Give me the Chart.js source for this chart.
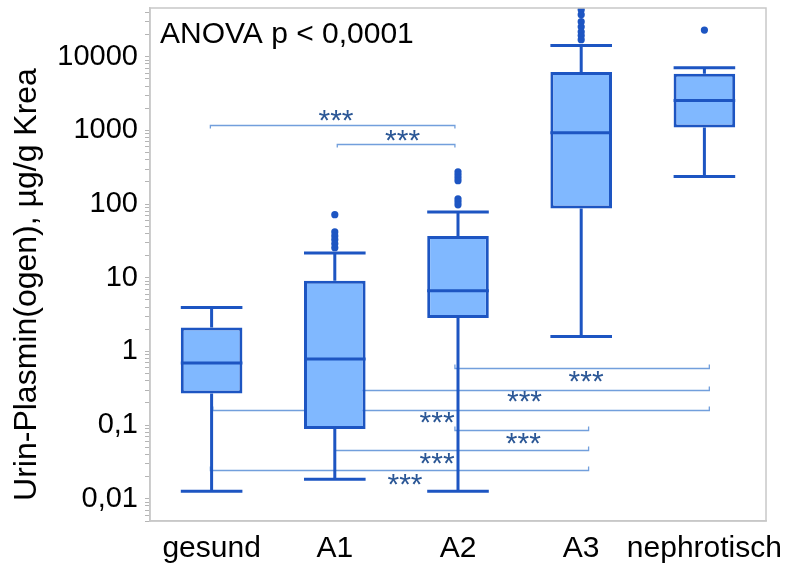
<!DOCTYPE html>
<html>
<head>
<meta charset="utf-8">
<script src="https://cdn.jsdelivr.net/npm/chart.js@4.4.1/dist/chart.umd.min.js"></script>
<style>
  html, body { margin: 0; padding: 0; background: #fff; }
</style>
</head>
<body>
<canvas id="chart" width="798" height="565"></canvas>
<script>
// groups and box statistics
const groups = ['gesund', 'A1', 'A2', 'A3', 'nephrotisch'];
const whiskerLow = [0.0127, 0.0185, 0.0127, 1.6, 238];
const q1 = [0.27, 0.089, 2.84, 87.5, 1100];
const median = [0.70, 0.79, 6.7, 933, 2560];
const q3 = [2.12, 9.1, 37, 6200, 5900];
const whiskerHigh = [3.96, 21.7, 78, 14300, 7100];

// outliers: group name + value
const outlierGroup = [
  'A1', 'A1', 'A1', 'A1', 'A1', 'A1',
  'A2', 'A2', 'A2', 'A2', 'A2', 'A2', 'A2',
  'A3', 'A3', 'A3', 'A3', 'A3', 'A3', 'A3',
  'nephrotisch'
];
const outlierValue = [
  72, 42, 37, 33, 29, 25.6,
  275, 250, 228, 208, 118, 108, 98,
  43600, 37300, 30000, 25600, 21900, 19400, 17100,
  23100
];

// significance brackets (from group index, to group index, level, star position)
const bracketFrom = [-0.01, 1.02, 1.975, 1.0, 0.01, 1.975, 1.0, -0.01];
const bracketTo = [1.975, 1.975, 4.04, 4.04, 4.04, 3.06, 3.06, 3.06];
const bracketLevel = [1200, 661, 0.595, 0.302, 0.161, 0.0865, 0.0453, 0.0248];
const bracketUp = [false, false, true, true, true, true, true, true];
const starX = [1.01, 1.55, 3.04, 2.54, 1.83, 2.53, 1.83, 1.57];
const starY = [1600, 857, 0.458, 0.245, 0.128, 0.0653, 0.0349, 0.0181];
const starText = ['***', '***', '***', '***', '***', '***', '***', '***'];

// y axis decade labels
const yTickValues = [0.01, 0.1, 1, 10, 100, 1000, 10000];
const yTickLabels = ['0,01', '0,1', '1', '10', '100', '1000', '10000'];

const yTitle = 'Urin-Plasmin(ogen), µg/g Krea';
const anovaText = 'ANOVA p < 0,0001';

const FONT = "'Liberation Sans', Arial, sans-serif";
const BOX_LINE = '#1d55c2';
const BOX_FILL = '#80b8ff';

const boxPlugin = {
  id: 'boxParts',
  beforeDatasetsDraw(chart) {
    const { ctx, scales: { x, y } } = chart;
    // brackets
    ctx.save();
    ctx.strokeStyle = '#729fdc';
    ctx.lineWidth = 1.3;
    bracketFrom.forEach((f, i) => {
      const x1 = x.getPixelForValue(f);
      const x2 = x.getPixelForValue(bracketTo[i]);
      const yy = Math.round(y.getPixelForValue(bracketLevel[i])) + 0.5;
      const t = bracketUp[i] ? -4 : 3;
      ctx.beginPath();
      ctx.moveTo(x1, yy + t);
      ctx.lineTo(x1, yy);
      ctx.lineTo(x2, yy);
      ctx.lineTo(x2, yy + t);
      ctx.stroke();
    });
    ctx.restore();
  },
  afterDatasetsDraw(chart) {
    const { ctx, scales: { x, y } } = chart;
    const bars = chart.getDatasetMeta(0).data;
    ctx.save();
    ctx.strokeStyle = BOX_LINE;
    ctx.lineWidth = 3;
    groups.forEach((g, i) => {
      const cx = x.getPixelForValue(i);
      const half = bars[i].width / 2;
      const yLo = y.getPixelForValue(whiskerLow[i]);
      const yHi = y.getPixelForValue(whiskerHigh[i]);
      const yQ1 = y.getPixelForValue(q1[i]);
      const yQ3 = y.getPixelForValue(q3[i]);
      const yMed = y.getPixelForValue(median[i]);
      ctx.beginPath();
      ctx.moveTo(cx, yQ3); ctx.lineTo(cx, yHi);
      ctx.moveTo(cx, yQ1); ctx.lineTo(cx, yLo);
      ctx.moveTo(cx - half, yHi); ctx.lineTo(cx + half, yHi);
      ctx.moveTo(cx - half, yLo); ctx.lineTo(cx + half, yLo);
      ctx.moveTo(cx - half, yMed); ctx.lineTo(cx + half, yMed);
      ctx.stroke();
    });
    ctx.restore();

    // stars
    ctx.save();
    ctx.fillStyle = '#2b5796';
    ctx.font = '30px ' + FONT;
    ctx.textAlign = 'center';
    ctx.textBaseline = 'alphabetic';
    starText.forEach((s, i) => {
      const m = ctx.measureText(s);
      const cy = y.getPixelForValue(starY[i]);
      const base = cy + (m.actualBoundingBoxAscent - m.actualBoundingBoxDescent) / 2;
      ctx.fillText(s, x.getPixelForValue(starX[i]), base);
    });
    ctx.restore();
  },
  afterDraw(chart) {
    const { ctx, chartArea } = chart;
    ctx.save();
    ctx.strokeStyle = '#c8c8c8';
    ctx.lineWidth = 1.5;
    ctx.strokeRect(chartArea.left, chartArea.top, chartArea.right - chartArea.left, chartArea.bottom - chartArea.top);

    ctx.fillStyle = '#000';
    ctx.font = '30px ' + FONT;
    ctx.textAlign = 'left';
    ctx.textBaseline = 'alphabetic';
    ctx.fillText(anovaText, chartArea.left + 10, chartArea.top + 35);

    ctx.translate(27, (chartArea.top + chartArea.bottom) / 2 + 20);
    ctx.rotate(-Math.PI / 2);
    ctx.textAlign = 'center';
    ctx.textBaseline = 'middle';
    ctx.font = '32px ' + FONT;
    ctx.fillText(yTitle, 0, 0);
    ctx.restore();
  }
};

new Chart(document.getElementById('chart'), {
  type: 'bar',
  data: {
    labels: groups,
    datasets: [
      {
        label: 'IQR',
        data: groups.map((g, i) => [q1[i], q3[i]]),
        backgroundColor: BOX_FILL,
        borderColor: BOX_LINE,
        borderWidth: 3,
        borderSkipped: false,
        barPercentage: 0.5,
        categoryPercentage: 1.0,
      },
      {
        type: 'scatter',
        label: 'Ausreißer',
        data: outlierValue.map((v, i) => ({ x: outlierGroup[i], y: v })),
        backgroundColor: BOX_LINE,
        borderColor: BOX_LINE,
        pointRadius: 3.6,
        borderWidth: 0,
        showLine: false,
      },
    ],
  },
  options: {
    responsive: false,
    animation: false,
    layout: { padding: { top: 8, right: 32, left: 0, bottom: 0 } },
    plugins: {
      legend: { display: false },
      tooltip: { enabled: false },
    },
    scales: {
      x: {
        type: 'category',
        grid: { display: false, drawTicks: false },
        border: { display: true, color: '#c8c8c8', width: 1.5 },
        ticks: {
          color: '#000',
          font: { family: FONT, size: 30 },
          padding: 10,
          autoSkip: false,
          maxRotation: 0,
          minRotation: 0,
        },
        afterFit: (scale) => {
          scale.height = 44;
          scale.paddingLeft = 0;
          scale.paddingRight = 0;
        },
      },
      y: {
        type: 'logarithmic',
        min: 0.005,
        max: 46000,
        afterBuildTicks: (scale) => {
          const t = [];
          for (let e = -3; e <= 4; e++) {
            for (let m = 1; m <= 9; m++) {
              const v = m * Math.pow(10, e);
              if (v >= scale.min && v <= scale.max) t.push({ value: v });
            }
          }
          scale.ticks = t;
        },
        grid: { drawOnChartArea: false, drawTicks: true, tickLength: 5, tickColor: '#b4b4b4', tickWidth: 1 },
        border: { display: true, color: '#c8c8c8', width: 1.5 },
        ticks: {
          color: '#000',
          font: { family: FONT, size: 29 },
          padding: 7,
          autoSkip: false,
          callback: (value) => {
            const i = yTickValues.findIndex((t) => Math.abs(t - value) / t < 1e-6);
            return i >= 0 ? yTickLabels[i] : '';
          },
        },
        afterFit: (scale) => {
          scale.width = 150;
          scale.paddingTop = 0;
          scale.paddingBottom = 0;
        },
      },
    },
  },
  plugins: [boxPlugin],
});
</script>
</body>
</html>
